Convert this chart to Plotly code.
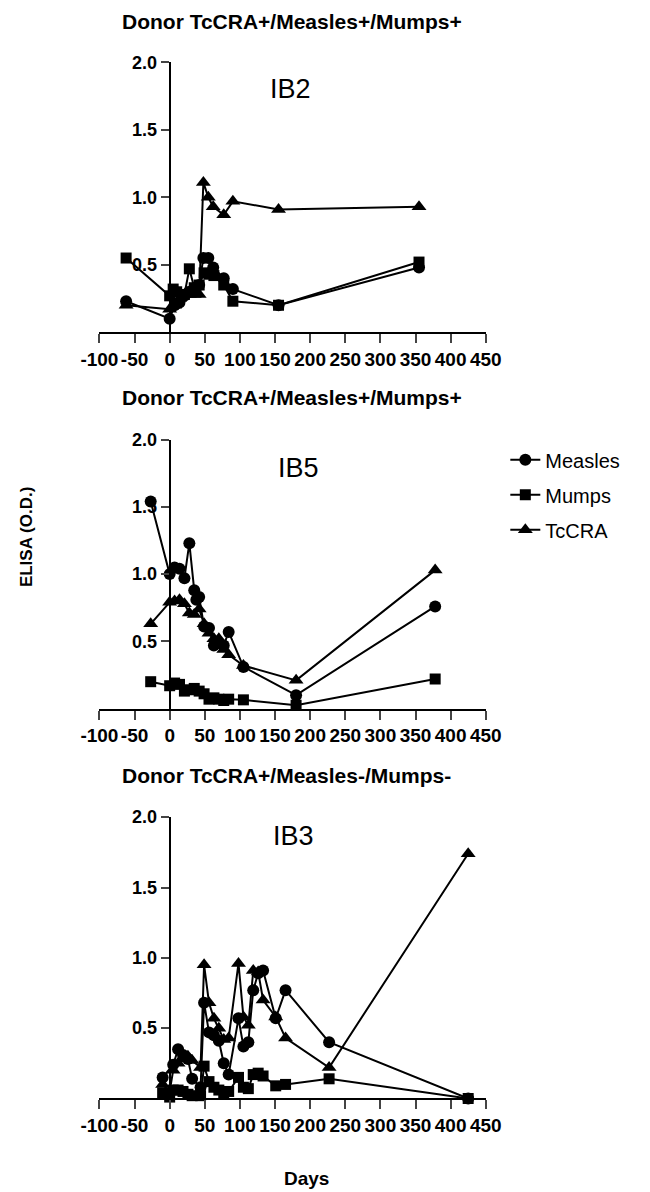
import plotly.graph_objects as go

# ---------------- data ----------------
panel_titles = ["Donor TcCRA+/Measles+/Mumps+", "Donor TcCRA+/Measles+/Mumps+", "Donor TcCRA+/Measles-/Mumps-"]
panel_ids = ["IB2", "IB5", "IB3"]
series_names = ["Measles", "Mumps", "TcCRA"]

# IB2
ib2_measles_x = [-62, 0, 7, 14, 21, 28, 35, 42, 48, 55, 62, 77, 90, 155, 355]
ib2_measles_y = [0.23, 0.10, 0.20, 0.22, 0.27, 0.30, 0.32, 0.35, 0.55, 0.55, 0.48, 0.40, 0.32, 0.20, 0.48]
ib2_mumps_x = [-62, 0, 5, 10, 21, 28, 35, 42, 49, 56, 63, 77, 90, 155, 355]
ib2_mumps_y = [0.55, 0.27, 0.32, 0.30, 0.28, 0.47, 0.33, 0.35, 0.44, 0.43, 0.42, 0.35, 0.23, 0.20, 0.52]
ib2_tccra_x = [-62, 0, 7, 14, 21, 28, 35, 42, 48, 55, 62, 77, 90, 155, 355]
ib2_tccra_y = [0.20, 0.17, 0.20, 0.25, 0.28, 0.28, 0.28, 0.28, 1.11, 1.00, 0.93, 0.87, 0.97, 0.91, 0.93]

# IB5
ib5_measles_x = [-27, 0, 7, 14, 21, 28, 35, 38, 42, 49, 56, 63, 70, 77, 84, 105, 180, 378]
ib5_measles_y = [1.54, 1.00, 1.05, 1.04, 0.97, 1.23, 0.88, 0.81, 0.83, 0.61, 0.60, 0.47, 0.49, 0.47, 0.57, 0.31, 0.10, 0.76]
ib5_mumps_x = [-27, 0, 7, 14, 21, 28, 35, 42, 49, 56, 63, 70, 77, 84, 105, 180, 378]
ib5_mumps_y = [0.20, 0.17, 0.19, 0.18, 0.13, 0.14, 0.15, 0.13, 0.11, 0.07, 0.08, 0.07, 0.06, 0.07, 0.065, 0.025, 0.22]
ib5_tccra_x = [-27, 0, 7, 14, 21, 28, 35, 42, 49, 56, 63, 70, 77, 84, 105, 180, 378]
ib5_tccra_y = [0.63, 0.79, 0.80, 0.81, 0.78, 0.71, 0.70, 0.74, 0.63, 0.56, 0.52, 0.52, 0.44, 0.40, 0.32, 0.21, 1.03]

# IB3
ib3_measles_x = [-10, 5, 12, 19, 26, 32, 44, 49, 56, 63, 70, 77, 84, 98, 105, 112, 119, 126, 133, 151, 165, 227, 425]
ib3_measles_y = [0.15, 0.24, 0.35, 0.31, 0.28, 0.14, 0.08, 0.68, 0.47, 0.45, 0.41, 0.25, 0.17, 0.57, 0.37, 0.40, 0.77, 0.89, 0.91, 0.57, 0.77, 0.40, 0.0]
ib3_mumps_x = [-10, 0, 5, 12, 19, 26, 32, 44, 49, 56, 63, 70, 77, 84, 98, 105, 112, 119, 126, 133, 151, 165, 227, 425]
ib3_mumps_y = [0.04, 0.01, 0.06, 0.06, 0.05, 0.03, 0.02, 0.02, 0.23, 0.12, 0.08, 0.06, 0.04, 0.05, 0.15, 0.08, 0.07, 0.17, 0.18, 0.16, 0.09, 0.10, 0.14, 0.0]
ib3_tccra_x = [-10, 0, 5, 12, 19, 26, 32, 44, 49, 56, 63, 70, 77, 84, 98, 105, 112, 119, 126, 133, 151, 165, 227, 425]
ib3_tccra_y = [0.10, 0.05, 0.20, 0.25, 0.28, 0.30, 0.27, 0.22, 0.95, 0.68, 0.57, 0.50, 0.42, 0.43, 0.96, 0.58, 0.52, 0.91, 0.90, 0.70, 0.58, 0.43, 0.22, 1.74]

x_ticks = [-100, -50, 0, 50, 100, 150, 200, 250, 300, 350, 400, 450]
x_ticktext = ["-100", "-50", "0", "50", "100", "150", "200", "250", "300", "350", "400", "450"]
y_ticks = [0.5, 1.0, 1.5, 2.0]
y_ticktext = ["0.5", "1.0", "1.5", "2.0"]

panels = [
    [(ib2_measles_x, ib2_measles_y), (ib2_mumps_x, ib2_mumps_y), (ib2_tccra_x, ib2_tccra_y)],
    [(ib5_measles_x, ib5_measles_y), (ib5_mumps_x, ib5_mumps_y), (ib5_tccra_x, ib5_tccra_y)],
    [(ib3_measles_x, ib3_measles_y), (ib3_mumps_x, ib3_mumps_y), (ib3_tccra_x, ib3_tccra_y)],
]

# ---------------- layout geometry (pixels) ----------------
W, H = 650, 1192
FONT = "Arial, Liberation Sans, sans-serif"
x_left, x_right = 85, 493.3
yaxis_px = 159.3
panel_px = [(52.7, 325.0), (433.3, 704.5), (814.0, 1097.7)]  # (top, bottom)
title_y_px = [12, 391, 772]
id_pos_px = [(287, 80), (295, 462), (290, 833)]

symbols = ["circle", "square", "triangle-up"]
sizes = [12, 11, 13]

fig = go.Figure()
for p, series in enumerate(panels):
    xs = "x" if p == 0 else f"x{p+1}"
    ys = "y" if p == 0 else f"y{p+1}"
    for s, (xv, yv) in enumerate(series):
        fig.add_trace(go.Scatter(
            x=xv, y=yv, xaxis=xs, yaxis=ys, mode="lines+markers",
            name=series_names[s], legendgroup=series_names[s], showlegend=(p == 0),
            line=dict(color="black", width=2),
            marker=dict(symbol=symbols[s], size=sizes[s], color="black"),
            cliponaxis=False,
        ))

xdom = [x_left / W, x_right / W]
ypos = yaxis_px / W
layout = dict(
    width=W, height=H, margin=dict(l=0, r=0, t=0, b=0),
    paper_bgcolor="white", plot_bgcolor="white",
    font=dict(family=FONT, color="black"),
    legend=dict(x=514 / W, y=1 - 434 / H, xanchor="left", yanchor="top",
                font=dict(size=20, family=FONT, color="black"),
                bgcolor="rgba(0,0,0,0)", tracegroupgap=6, itemwidth=30,
                traceorder="grouped"),
    annotations=[],
)
for p in range(3):
    top, bot = panel_px[p]
    xk = "xaxis" if p == 0 else f"xaxis{p+1}"
    yk = "yaxis" if p == 0 else f"yaxis{p+1}"
    yref = "y" if p == 0 else f"y{p+1}"
    layout[xk] = dict(domain=xdom, range=[-100, 450], anchor=yref,
                      tickvals=x_ticks, ticktext=x_ticktext, ticks="outside", ticklen=9, tickwidth=2,
                      showline=True, linewidth=2, linecolor="black",
                      showgrid=False, zeroline=False,
                      tickfont=dict(size=19, family=FONT, weight="bold", color="black"))
    layout[yk] = dict(domain=[1 - bot / H, 1 - top / H], range=[0, 2],
                      anchor="free", position=ypos,
                      tickvals=y_ticks, ticktext=y_ticktext, ticks="outside", ticklen=8, tickwidth=2,
                      showline=True, linewidth=2, linecolor="black",
                      showgrid=False, zeroline=False,
                      tickfont=dict(size=18, family=FONT, weight="bold", color="black"))
    layout["annotations"].append(dict(
        text=panel_titles[p], x=107 / W, y=1 - title_y_px[p] / H, xref="paper", yref="paper",
        xanchor="left", yanchor="middle", showarrow=False,
        font=dict(size=21, family=FONT, weight="bold", color="black")))
    ix, iy = id_pos_px[p]
    layout["annotations"].append(dict(
        text=panel_ids[p], x=ix / W, y=1 - iy / H, xref="paper", yref="paper",
        xanchor="center", yanchor="middle", showarrow=False,
        font=dict(size=27, family=FONT, color="black")))

layout["annotations"].append(dict(
    text="ELISA (O.D.)", x=8 / W, y=1 - 532 / H, xref="paper", yref="paper",
    xanchor="center", yanchor="middle", showarrow=False, textangle=-90,
    font=dict(size=17, family=FONT, weight="bold", color="black")))
layout["annotations"].append(dict(
    text="Days", x=304 / W, y=1 - 1178 / H, xref="paper", yref="paper",
    xanchor="center", yanchor="middle", showarrow=False,
    font=dict(size=19, family=FONT, weight="bold", color="black")))

fig.update_layout(**layout)
fig.write_html("out.html")
